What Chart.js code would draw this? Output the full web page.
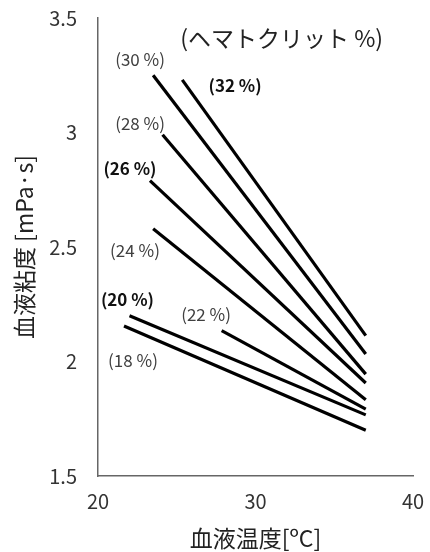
<!DOCTYPE html>
<html>
<head>
<meta charset="utf-8">
<script src="https://cdn.jsdelivr.net/npm/chart.js@4.4.0/dist/chart.umd.min.js"></script>
<style>
  html, body { margin: 0; padding: 0; background: #fff; }
  #wrap { width: 430px; height: 552px; }
</style>
</head>
<body>
<div id="wrap"><canvas id="chart" width="430" height="552"></canvas></div>
<script>
// hematocrit series: start point -> end point at 37 C
const hematocrit = ["32", "30", "28", "26", "24", "22", "20", "18"];
const startTemp = [25.35, 23.5, 24.1, 23.3, 23.5, 27.85, 22.0, 21.65];
const startVisc = [3.23, 3.25, 2.99, 2.79, 2.58, 2.135, 2.20, 2.155];
const endTemp = [37, 37, 37, 37, 37, 37, 37, 37];
const endVisc = [2.113, 2.033, 1.945, 1.906, 1.833, 1.792, 1.767, 1.70];

// labels placed in data coordinates
const labelText = ["(ヘマトクリット %)", "(30 %)", "(32 %)", "(28 %)", "(26 %)", "(24 %)", "(20 %)", "(22 %)", "(18 %)"];
const labelX = [31.66, 22.67, 28.7, 22.67, 22.03, 22.35, 21.87, 26.86, 22.22];
const labelY = [3.41, 3.319, 3.207, 3.039, 2.842, 2.485, 2.269, 2.203, 2.003];
const labelBold = [false, false, true, false, true, false, true, false, false];

const xTicks = [20, 30, 40];
const yTicks = [1.5, 2, 2.5, 3, 3.5];

const fontFamily = "'Noto Sans CJK JP', 'Noto Sans', sans-serif";

const datasets = hematocrit.map((h, i) => ({
  label: h + "%",
  data: [
    { x: startTemp[i], y: startVisc[i] },
    { x: endTemp[i], y: endVisc[i] },
  ],
  borderColor: "#000",
  borderWidth: 3.2,
  pointRadius: 0,
  showLine: true,
  fill: false,
}));

const labelPlugin = {
  id: "hctLabels",
  afterDatasetsDraw(chart) {
    const ctx = chart.ctx;
    const xs = chart.scales.x;
    const ys = chart.scales.y;
    ctx.save();
    ctx.textAlign = "center";
    ctx.textBaseline = "middle";
    labelText.forEach((t, i) => {
      const size = i === 0 ? 23 : 17;
      ctx.font = (labelBold[i] ? "bold " : "") + size + "px " + fontFamily;
      ctx.fillStyle = labelBold[i] ? "#111" : (i === 0 ? "#222" : "#404040");
      ctx.fillText(t, xs.getPixelForValue(labelX[i]), ys.getPixelForValue(labelY[i]));
    });
    ctx.restore();
  },
};

new Chart(document.getElementById("chart").getContext("2d"), {
  type: "scatter",
  data: { datasets: datasets },
  options: {
    responsive: false,
    animation: false,
    layout: { padding: { left: 0, right: 17, top: 18, bottom: 0 } },
    plugins: { legend: { display: false }, tooltip: { enabled: false } },
    scales: {
      x: {
        type: "linear",
        min: 20,
        max: 40,
        afterBuildTicks: (s) => { s.ticks = xTicks.map((v) => ({ value: v })); },
        afterFit: (s) => { s.height = 76; s.paddingLeft = 0; s.paddingRight = 0; },
        grid: { display: false, drawTicks: false },
        border: { color: "#666", width: 1.5 },
        ticks: { color: "#333", padding: 13, font: { family: fontFamily, size: 20 } },
        title: {
          display: true,
          text: "血液温度[ºC]",
          color: "#222",
          font: { family: fontFamily, size: 23 },
          padding: { top: 4, bottom: 0 },
        },
      },
      y: {
        type: "linear",
        min: 1.5,
        max: 3.5,
        afterBuildTicks: (s) => { s.ticks = yTicks.map((v) => ({ value: v })); },
        afterFit: (s) => { s.width = 98; s.paddingTop = 0; s.paddingBottom = 0; },
        grid: { display: false, drawTicks: false },
        border: { color: "#666", width: 1.5 },
        ticks: {
          color: "#333",
          padding: 21,
          font: { family: fontFamily, size: 20 },
          callback: (v) => String(v),
        },
        title: {
          display: true,
          text: "血液粘度 [mPa·s]",
          color: "#222",
          font: { family: fontFamily, size: 23 },
          padding: { top: 10, bottom: 0 },
        },
      },
    },
  },
  plugins: [labelPlugin],
});
</script>
</body>
</html>
